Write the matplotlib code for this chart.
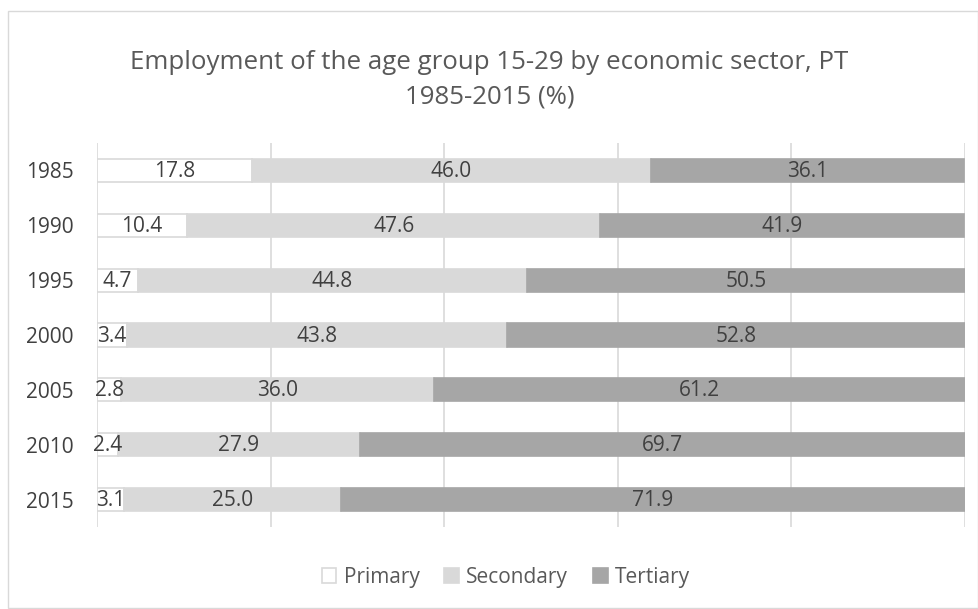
import matplotlib
matplotlib.use("Agg")
import matplotlib.pyplot as plt
import numpy as np

years = ["1985", "1990", "1995", "2000", "2005", "2010", "2015"]
primary = [17.8, 10.4, 4.7, 3.4, 2.8, 2.4, 3.1]
secondary = [46.0, 47.6, 44.8, 43.8, 36.0, 27.9, 25.0]
tertiary = [36.1, 41.9, 50.5, 52.8, 61.2, 69.7, 71.9]
series_names = ["Primary", "Secondary", "Tertiary"]
title = "Employment of the age group 15-29 by economic sector, PT\n1985-2015 (%)"

plt.rcParams['font.family'] = ['Open Sans', 'DejaVu Sans']

W, H = 979, 609
fig = plt.figure(figsize=(W/100, H/100), dpi=100)
# figure border
fig.patches.append(plt.Rectangle((8/W, 1/H), (W-9)/W, (H-11-1)/H, transform=fig.transFigure,
                                 fill=False, edgecolor='#d9d9d9', linewidth=1))

ax = fig.add_axes([97/W, (H-527)/H, 868/W, 384/H])
y = np.arange(len(years))
h = 0.42
data = [primary, secondary, tertiary]
fills = ['white', '#d9d9d9', '#a6a6a6']
edges = ['#d9d9d9', '#d9d9d9', '#a6a6a6']
fs = 15
left = np.zeros(len(years))
for name, vals, fc, ec in zip(series_names, data, fills, edges):
    vals = np.array(vals)
    ax.barh(y, vals, left=left, height=h, color=fc, edgecolor=ec, linewidth=1.2, label=name, zorder=3)
    for yi, l, v in zip(y, left, vals):
        ax.text(l + v/2, yi + 0.02, f"{v:.1f}", ha='center', va='center', fontsize=fs, color='#404040', zorder=4)
    left = left + vals

ax.set_xlim(0, 100)
ax.set_ylim(len(years) - 0.5, -0.5)
ax.set_xticks([0, 20, 40, 60, 80, 100])
ax.set_xticklabels([])
ax.tick_params(axis='x', length=0)
ax.set_yticks(y)
ax.set_yticklabels(years, fontsize=fs, color='#404040')
ax.tick_params(axis='y', length=0, pad=17)
ax.grid(axis='x', color='#d9d9d9', linewidth=1.2, zorder=0)
for s in ax.spines.values():
    s.set_visible(False)

fig.text(0.5, (H-80)/H, title, ha='center', va='center', fontsize=18.6, color='#595959', linespacing=1.5)

leg = fig.legend(loc='center', bbox_to_anchor=(506/W, (H-577)/H), ncol=3, frameon=False,
                 fontsize=15, handlelength=0.7, handleheight=0.7, handletextpad=0.35,
                 columnspacing=1.2, labelcolor='#595959')

fig.savefig("out.png", dpi=100)
